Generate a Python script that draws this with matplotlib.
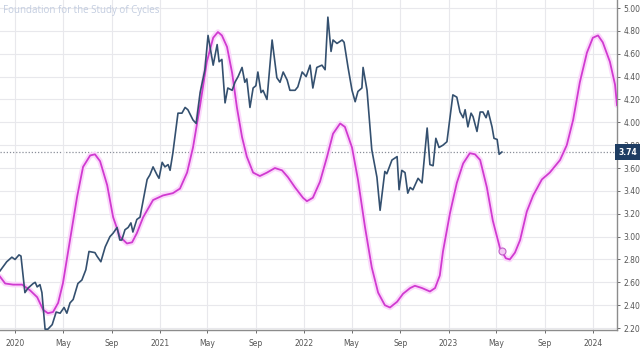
import pandas as pd
import matplotlib
matplotlib.use('Agg')
import matplotlib.pyplot as plt
import matplotlib.dates as mdates

# цена (недельные значения)
price_dates = [
    '2019-11-24', '2019-12-11', '2019-12-24', '2020-01-01', '2020-01-11', '2020-01-16',
    '2020-01-26', '2020-02-03', '2020-02-16', '2020-02-21', '2020-02-26', '2020-03-04',
    '2020-03-09', '2020-03-17', '2020-03-24', '2020-04-04', '2020-04-14', '2020-04-24',
    '2020-05-04', '2020-05-11', '2020-05-19', '2020-05-27', '2020-06-08', '2020-06-18',
    '2020-06-28', '2020-07-06', '2020-07-21', '2020-07-26', '2020-08-05', '2020-08-16',
    '2020-08-28', '2020-09-05', '2020-09-15', '2020-09-22', '2020-09-27', '2020-10-05',
    '2020-10-13', '2020-10-20', '2020-10-25', '2020-11-04', '2020-11-12', '2020-11-30',
    '2020-12-07', '2020-12-15', '2020-12-25', '2020-12-30', '2021-01-07', '2021-01-14',
    '2021-01-22', '2021-01-27', '2021-02-03', '2021-02-16', '2021-02-26', '2021-03-06',
    '2021-03-13', '2021-03-26', '2021-04-03', '2021-04-13', '2021-04-25', '2021-05-03',
    '2021-05-16', '2021-05-26', '2021-05-31', '2021-06-07', '2021-06-15', '2021-06-22',
    '2021-07-03', '2021-07-10', '2021-07-18', '2021-07-28', '2021-08-04', '2021-08-09',
    '2021-08-17', '2021-08-25', '2021-09-01', '2021-09-06', '2021-09-14', '2021-09-19',
    '2021-09-29', '2021-10-12', '2021-10-24', '2021-11-01', '2021-11-09', '2021-11-19',
    '2021-11-26', '2021-12-09', '2021-12-16', '2021-12-27', '2022-01-06', '2022-01-16',
    '2022-01-23', '2022-02-02', '2022-02-15', '2022-02-23', '2022-03-02', '2022-03-10',
    '2022-03-15', '2022-03-25', '2022-04-07', '2022-04-12', '2022-04-22', '2022-05-02',
    '2022-05-10', '2022-05-17', '2022-05-27', '2022-05-30', '2022-06-09', '2022-06-21',
    '2022-07-04', '2022-07-12', '2022-07-24', '2022-07-29', '2022-08-11', '2022-08-24',
    '2022-08-29', '2022-09-05', '2022-09-13', '2022-09-20', '2022-09-26', '2022-10-03',
    '2022-10-16', '2022-10-26', '2022-11-08', '2022-11-15', '2022-11-23', '2022-11-30',
    '2022-12-08', '2022-12-18', '2022-12-28', '2023-01-05', '2023-01-12', '2023-01-22',
    '2023-01-30', '2023-02-07', '2023-02-12', '2023-02-19', '2023-02-27', '2023-03-04',
    '2023-03-14', '2023-03-22', '2023-03-29', '2023-04-06', '2023-04-11', '2023-04-21',
    '2023-04-26', '2023-05-04', '2023-05-09', '2023-05-16',
]
price_values = [
    2.70, 2.78, 2.82, 2.80, 2.84, 2.83,
    2.51, 2.55, 2.59, 2.60, 2.56, 2.58,
    2.51, 2.19, 2.19, 2.23, 2.34, 2.33,
    2.38, 2.33, 2.42, 2.45, 2.59, 2.62,
    2.71, 2.87, 2.86, 2.83, 2.78, 2.91,
    3.00, 3.03, 3.08, 2.97, 2.97, 3.06,
    3.08, 3.12, 3.04, 3.15, 3.17, 3.50,
    3.54, 3.61, 3.54, 3.51, 3.65, 3.61,
    3.63, 3.58, 3.73, 4.08, 4.08, 4.13,
    4.11, 4.02, 3.99, 4.26, 4.46, 4.76,
    4.50, 4.68, 4.53, 4.55, 4.17, 4.30,
    4.28, 4.35, 4.40, 4.48, 4.35, 4.38,
    4.13, 4.30, 4.32, 4.44, 4.26, 4.28,
    4.20, 4.72, 4.39, 4.35, 4.44, 4.37,
    4.28, 4.28, 4.31, 4.44, 4.40, 4.50,
    4.30, 4.48, 4.50, 4.46, 4.92, 4.62,
    4.72, 4.69, 4.72, 4.70, 4.48, 4.28,
    4.18, 4.27, 4.30, 4.48, 4.28, 3.76,
    3.52, 3.23, 3.57, 3.55, 3.67, 3.70,
    3.41, 3.58, 3.56, 3.38, 3.43, 3.41,
    3.51, 3.47, 3.95, 3.63, 3.62, 3.86,
    3.78, 3.80, 3.83, 4.05, 4.24, 4.22,
    4.09, 4.04, 4.11, 3.96, 4.08, 4.05,
    3.92, 4.09, 4.09, 4.04, 4.10, 3.96,
    3.86, 3.85, 3.72, 3.74,
]

# циклическая проекция
cycle_dates = [
    '2019-11-24', '2019-12-07', '2019-12-27', '2020-01-19', '2020-02-08', '2020-02-26',
    '2020-03-12', '2020-03-24', '2020-04-06', '2020-04-19', '2020-05-01', '2020-05-19',
    '2020-06-06', '2020-06-21', '2020-07-09', '2020-07-21', '2020-08-03', '2020-08-21',
    '2020-09-05', '2020-09-22', '2020-10-10', '2020-10-23', '2020-11-04', '2020-11-20',
    '2020-12-15', '2021-01-09', '2021-02-03', '2021-02-21', '2021-03-11', '2021-03-26',
    '2021-04-13', '2021-04-30', '2021-05-16', '2021-05-28', '2021-06-07', '2021-06-20',
    '2021-07-03', '2021-07-15', '2021-07-28', '2021-08-09', '2021-08-25', '2021-09-11',
    '2021-09-29', '2021-10-19', '2021-11-06', '2021-11-21', '2021-12-09', '2021-12-29',
    '2022-01-08', '2022-01-23', '2022-02-10', '2022-02-28', '2022-03-15', '2022-04-02',
    '2022-04-14', '2022-05-02', '2022-05-17', '2022-06-04', '2022-06-21', '2022-07-07',
    '2022-07-24', '2022-08-06', '2022-08-24', '2022-09-08', '2022-09-26', '2022-10-08',
    '2022-10-26', '2022-11-15', '2022-11-28', '2022-12-10', '2022-12-18', '2023-01-05',
    '2023-01-22', '2023-02-07', '2023-02-24', '2023-03-09', '2023-03-22', '2023-04-08',
    '2023-04-23', '2023-05-11', '2023-05-16', '2023-05-26', '2023-06-05', '2023-06-18',
    '2023-07-01', '2023-07-18', '2023-08-03', '2023-08-25', '2023-09-14', '2023-10-10',
    '2023-10-27', '2023-11-12', '2023-11-29', '2023-12-17', '2024-01-01', '2024-01-14',
    '2024-01-26', '2024-02-13', '2024-02-26', '2024-03-02',
]
cycle_values = [
    2.65, 2.59, 2.58, 2.58, 2.53, 2.47,
    2.36, 2.33, 2.34, 2.42, 2.59, 2.97,
    3.35, 3.61, 3.71, 3.72, 3.66, 3.45,
    3.17, 3.00, 2.94, 2.95, 3.03, 3.17,
    3.32, 3.36, 3.38, 3.42, 3.56, 3.78,
    4.15, 4.53, 4.74, 4.79, 4.76, 4.66,
    4.43, 4.13, 3.87, 3.70, 3.56, 3.53,
    3.56, 3.60, 3.58, 3.52, 3.43, 3.34,
    3.31, 3.34, 3.48, 3.70, 3.90, 3.99,
    3.96, 3.78, 3.50, 3.08, 2.73, 2.51,
    2.40, 2.38, 2.43, 2.50, 2.55, 2.57,
    2.55, 2.52, 2.55, 2.66, 2.87, 3.21,
    3.47, 3.64, 3.73, 3.72, 3.67, 3.43,
    3.14, 2.90, 2.87, 2.81, 2.80, 2.86,
    2.97, 3.22, 3.36, 3.50, 3.56, 3.67,
    3.80, 4.02, 4.35, 4.61, 4.74, 4.76,
    4.70, 4.53, 4.33, 4.15,
]

marker_date = '2023-05-16'
marker_value = 2.87
last_price = 3.74

y_ticks = [2.2, 2.4, 2.6, 2.8, 3.0, 3.2, 3.4, 3.6, 3.8, 4.0, 4.2, 4.4, 4.6, 4.8, 5.0]

price_dates = pd.to_datetime(price_dates)
cycle_dates = pd.to_datetime(cycle_dates)

fig = plt.figure(figsize=(6.4, 3.52), dpi=100)
ax = fig.add_axes([0, 0.0625, 617 / 640, 0.9375])

# мягкое свечение под фиолетовой линией
ax.plot(cycle_dates, cycle_values, color='#fbd8fb', lw=4, solid_capstyle='round', zorder=2)
ax.plot(cycle_dates, cycle_values, color='#d03ad0', lw=1.3, zorder=3)
ax.plot(price_dates, price_values, color='#34506f', lw=1.2, zorder=4)
ax.plot(pd.to_datetime(marker_date), marker_value, 'o', ms=5, mfc='#f3c8f3',
        mec='#c060c8', mew=0.8, zorder=5)

ax.axhline(last_price, color='#8a8f99', lw=0.9, ls=(0, (1, 1.5)), zorder=1)

ax.set_xlim(pd.Timestamp('2019-11-24'), pd.Timestamp('2024-03-02'))
ax.set_ylim(2.183, 5.07)

ax.yaxis.tick_right()
ax.set_yticks(y_ticks)
ax.set_yticklabels(['%.2f' % v for v in y_ticks])

ax.xaxis.set_major_locator(mdates.MonthLocator(bymonth=[1, 5, 9]))
labels = []
for d in mdates.num2date(ax.get_xticks()):
    labels.append(str(d.year) if d.month == 1 else d.strftime('%b'))
ax.set_xticks(ax.get_xticks())
ax.set_xticklabels(labels)

ax.tick_params(axis='both', labelsize=5.5, colors='#555555', length=2.5, width=0.6)
ax.tick_params(axis='y', pad=2)
ax.tick_params(axis='x', pad=4)

ax.grid(True, color='#e8e8ec', lw=0.8, zorder=0)
for s in ['top', 'left']:
    ax.spines[s].set_visible(False)
for s in ['right', 'bottom']:
    ax.spines[s].set_color('#8c8c8c')
    ax.spines[s].set_linewidth(1.0)

# метка последней цены
ax.text(1.002, last_price, '%.2f' % last_price, transform=ax.get_yaxis_transform(),
        ha='left', va='center', fontsize=5.5, color='white', fontweight='bold', zorder=10,
        bbox=dict(boxstyle='square,pad=0.4', fc='#1e3d63', ec='none'), clip_on=False)

fig.text(0.004, 0.985, 'Foundation for the Study of Cycles', ha='left', va='top',
         fontsize=7, color='#c3cde0', family='Open Sans')

fig.savefig('out.png', dpi=100)
